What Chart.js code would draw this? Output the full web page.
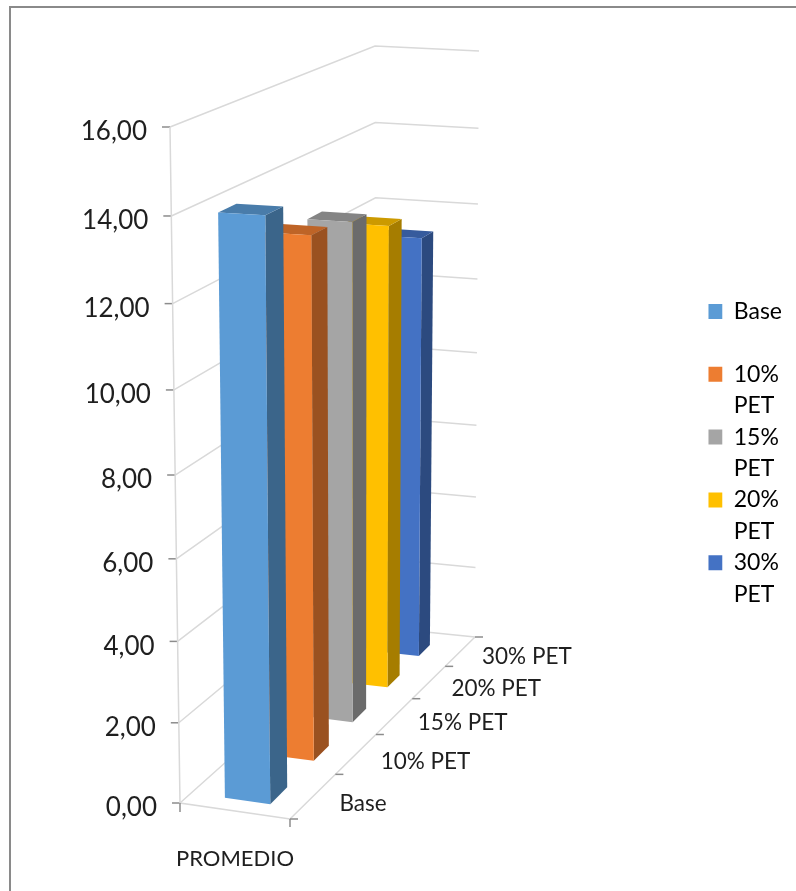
<!DOCTYPE html>
<html>
<head>
<meta charset="utf-8">
<script src="https://cdn.jsdelivr.net/npm/chart.js@4/dist/chart.umd.js"></script>
<style>
  html, body { margin: 0; background: #fff; overflow: hidden; }
  #frame { position: absolute; left: 9px; top: 6px; width: 800px; height: 900px; border-left: 2px solid #8a8a8a; border-top: 2px solid #8a8a8a; }
  #chart { position: absolute; left: 0; top: 0; }
</style>
</head>
<body>
<div id="frame"></div>
<canvas id="chart" width="796" height="891"></canvas>
<script>
const categories = ['PROMEDIO'];
const seriesNames = ['Base', '10% PET', '15% PET', '20% PET', '30% PET'];
const seriesValues = [14.0, 13.0, 12.8, 12.2, 11.4];
const seriesColors = ['#5B9BD5', '#ED7D31', '#A5A5A5', '#FFC000', '#4472C4'];
const valueMax = 16;
const valueStep = 2;

// box corners on screen: floor a b c d, ceiling e f g h
const box = {
  a: [180, 803], b: [290, 819], c: [475, 637], d: [377, 627],
  e: [170, 127], f: [285, 132], g: [479, 51], h: [375, 46],
};
const depthPersp = 0.3;
const heightPersp = -0.0575;
const barLeft = 0.31, barRight = 0.725, barDrift = 0.07;
const barDepth = 0.075, barStart = 0.045;

const lerp = (p, q, t) => [p[0] + (q[0] - p[0]) * t, p[1] + (q[1] - p[1]) * t];

// u across, d into the page, z up, all 0..1
function project(u, d, z) {
  const dd = d * (1 + depthPersp) / (1 + depthPersp * d);
  const zz = z * (1 + heightPersp) / (1 + heightPersp * z);
  const floor = lerp(lerp(box.a, box.b, u), lerp(box.d, box.c, u), dd);
  const roof = lerp(lerp(box.e, box.f, u), lerp(box.h, box.g, u), dd);
  return lerp(floor, roof, zz);
}

class ProjectedScale extends Chart.LinearScale {
  heightFor(value) {
    return (value - this.min) / (this.max - this.min);
  }
  getPixelForValue(value) {
    return project(0, 0, this.heightFor(value))[1];
  }
  // labels follow the leaning axis, so they can't be clipped to the scale box
  _computeLabelArea() {
    return undefined;
  }
  _computeLabelItems(area) {
    const items = super._computeLabelItems(area);
    items.forEach((item, i) => {
      const p = project(0, 0, this.heightFor(this.ticks[i].value));
      item.options.translation = [p[0] - 23, p[1] + 5];
    });
    return items;
  }
}
ProjectedScale.id = 'projected';
ProjectedScale.defaults = Chart.LinearScale.defaults;

class FloorCategoryScale extends Chart.CategoryScale {
  _computeLabelArea() {
    return undefined;
  }
  _computeLabelItems(area) {
    const items = super._computeLabelItems(area);
    const p = project(0.5, 0, 0);
    items.forEach(item => { item.options.translation = [p[0], p[1] + 35]; });
    return items;
  }
}
FloorCategoryScale.id = 'floorCategory';
FloorCategoryScale.defaults = Chart.CategoryScale.defaults;

function shade(hex, k) {
  const n = parseInt(hex.slice(1), 16);
  const c = [n >> 16, (n >> 8) & 255, n & 255].map(v => Math.round(v * k));
  return `rgb(${c.join(',')})`;
}

function fillFace(ctx, pts, color) {
  ctx.beginPath();
  pts.forEach((p, i) => (i ? ctx.lineTo(p[0], p[1]) : ctx.moveTo(p[0], p[1])));
  ctx.closePath();
  ctx.fillStyle = color;
  ctx.fill();
}

// one block per dataset: side, top, then the front face
class Bar3dController extends Chart.BarController {
  draw() {
    const ctx = this.chart.ctx;
    const color = this.getDataset().backgroundColor;
    const z = this._cachedMeta.vScale.heightFor(this.getParsed(0).y);
    const d0 = this.index * 0.2 + barStart;
    const d1 = d0 + barDepth;
    const at = (u, d, h) => project(u - barDrift * d * (1 - 0.5 * h), d, h);
    const u0 = barLeft, u1 = barRight;
    fillFace(ctx, [at(u1, d0, 0), at(u1, d1, 0), at(u1, d1, z), at(u1, d0, z)], shade(color, 0.65));
    fillFace(ctx, [at(u0, d0, z), at(u1, d0, z), at(u1, d1, z), at(u0, d1, z)], shade(color, 0.8));
    fillFace(ctx, [at(u0, d0, 0), at(u1, d0, 0), at(u1, d0, z), at(u0, d0, z)], color);
  }
}
Bar3dController.id = 'bar3d';
Bar3dController.defaults = Chart.BarController.defaults;
Bar3dController.overrides = Chart.BarController.overrides;

Chart.register(ProjectedScale, FloorCategoryScale, Bar3dController);

function strokeLine(ctx, pts, color, width) {
  ctx.beginPath();
  pts.forEach((p, i) => (i ? ctx.lineTo(p[0], p[1]) : ctx.moveTo(p[0], p[1])));
  ctx.strokeStyle = color;
  ctx.lineWidth = width;
  ctx.stroke();
}

const gridColor = '#D9D9D9';
const tickColor = '#8C8C8C';
const textColor = '#1f1f1f';

const wallsPlugin = {
  id: 'walls',
  beforeDatasetsDraw(chart) {
    const ctx = chart.ctx;
    const y = chart.scales.y;
    ctx.save();
    // gridlines run along the left wall and then the back wall
    y.ticks.forEach(t => {
      const z = y.heightFor(t.value);
      strokeLine(ctx, [project(0, 0, z), project(0, 1, z), project(1, 1, z)], gridColor, 1.5);
      const p = project(0, 0, z);
      strokeLine(ctx, [[p[0] - 8, p[1]], p], tickColor, 1.5);
    });
    strokeLine(ctx, [project(0, 0, 1), project(0, 0, 0), project(1, 0, 0), project(1, 1, 0)], gridColor, 1.5);
    // axis stubs at the floor corners and along the depth edge
    const a = project(0, 0, 0), b = project(1, 0, 0);
    strokeLine(ctx, [a, [a[0], a[1] + 9]], tickColor, 1.5);
    strokeLine(ctx, [b, [b[0], b[1] + 8]], tickColor, 1.5);
    for (let i = 0; i <= seriesNames.length; i++) {
      const p = project(1, i / seriesNames.length, 0);
      strokeLine(ctx, [p, [p[0] + 8, p[1]]], tickColor, 1.5);
    }
    ctx.restore();
  },
  afterDraw(chart) {
    const ctx = chart.ctx;
    ctx.save();
    ctx.font = '22.5px Lato';
    ctx.fillStyle = textColor;
    ctx.textAlign = 'left';
    ctx.textBaseline = 'middle';
    seriesNames.forEach((name, i) => {
      const p = project(1, (i + 1) / seriesNames.length, 0);
      ctx.fillText(name, p[0] + 4 + 0.75 * i, p[1] + 29.5 - 2.5 * i);
    });
    ctx.restore();
  },
};

new Chart(document.getElementById('chart'), {
  type: 'bar3d',
  data: {
    labels: categories,
    datasets: seriesNames.map((name, i) => ({
      label: name,
      data: [seriesValues[i]],
      backgroundColor: seriesColors[i],
    })),
  },
  options: {
    responsive: false,
    animation: false,
    events: [],
    layout: { padding: { top: 23, right: 4 } },
    plugins: {
      tooltip: { enabled: false },
      legend: {
        position: 'right',
        labels: {
          boxWidth: 14,
          boxHeight: 15,
          padding: 0,
          color: textColor,
          font: { family: 'Lato', size: 23, lineHeight: 31.4 / 23 },
          generateLabels: chart => chart.data.datasets.map((ds, i) => {
            const parts = ds.label.split(' ');
            return {
              text: parts.length > 1 ? parts : [ds.label, ''],
              fillStyle: ds.backgroundColor,
              strokeStyle: 'transparent',
              lineWidth: 0,
              datasetIndex: i,
            };
          }),
        },
      },
    },
    scales: {
      x: {
        type: 'floorCategory',
        grid: { display: false },
        border: { display: false },
        ticks: { color: textColor, font: { family: 'Lato', size: 22 } },
      },
      y: {
        type: 'projected',
        min: 0,
        max: valueMax,
        grid: { display: false },
        border: { display: false },
        ticks: {
          stepSize: valueStep,
          color: textColor,
          font: { family: 'Lato', size: 26 },
          callback: v => v.toFixed(2).replace('.', ','),
        },
      },
    },
  },
  plugins: [wallsPlugin],
});
</script>
</body>
</html>
